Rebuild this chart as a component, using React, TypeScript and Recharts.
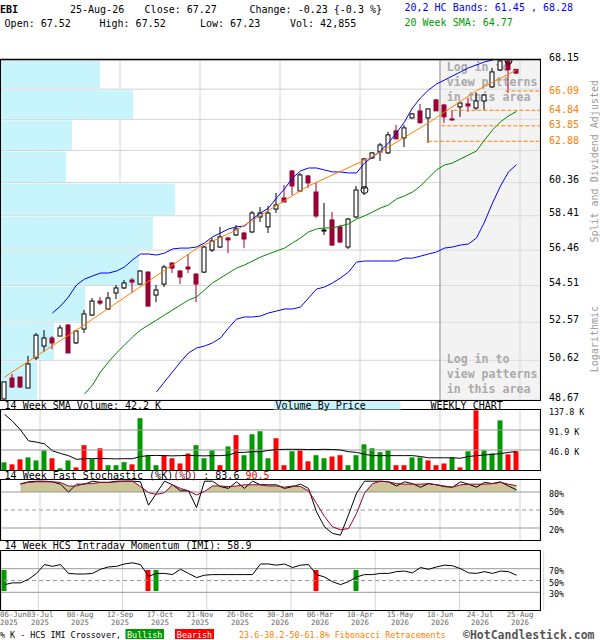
import React from 'react';
import {
  ComposedChart,
  Bar,
  Line,
  Area,
  Scatter,
  XAxis,
  YAxis,
  CartesianGrid,
  ReferenceLine,
  ReferenceArea,
  Cell,
} from 'recharts';

const MONO = '"DejaVu Sans Mono", monospace';
const CANDLE_RED = '#990033';
const ORANGE = '#ff8000';
const BAND_BLUE = '#0000ff';
const SMA_GREEN = '#008800';
const UP_GREEN = '#009900';
const DOWN_RED = '#ff0000';
const GRID = '#d4d4d4';
const RULE = '#999999';
const VBP_CYAN = '#c8f4fc';

// weekly bars, 06-Jun-2025 .. 25-Aug-2026
const opens = [
  48.72, 49.74, 49.79, 49.25, 50.74, 51.34, 51.75, 51.85, 52.42, 51.5,
  52.21, 52.94, 53.68, 53.26, 54.11, 54.38, 54.81, 54.59, 55.24, 54.0,
  54.59, 55.74, 55.3, 55.52, 55.13, 55.24, 56.46, 56.63, 57.14, 57.31,
  57.42, 57.48, 58.34, 57.77, 58.8, 59.45, 61.06, 59.86, 60.76, 59.8,
  57.54, 58.17, 57.77, 56.63, 58.34, 60.04, 61.85, 62.22, 62.16, 63.53,
  63.09, 64.35, 64.8, 64.35, 65.51, 65.18, 64.29, 65.06, 65.25, 64.99,
  65.44, 66.36, 67.48, 68.09, 67.52,
];
const highs = [
  49.55, 49.94, 49.79, 50.84, 52.01, 52.16, 51.85, 52.42, 52.47, 52.16,
  53.21, 53.84, 53.9, 54.16, 54.54, 54.81, 54.92, 55.35, 55.3, 54.54,
  55.63, 55.79, 55.35, 56.24, 55.19, 56.69, 57.14, 57.77, 57.2, 57.88,
  57.48, 58.69, 58.92, 58.98, 59.74, 60.22, 61.12, 60.94, 60.82, 60.4,
  59.15, 58.63, 57.88, 58.28, 60.16, 61.85, 62.22, 62.78, 63.47, 63.91,
  63.91, 64.67, 65.25, 64.93, 65.57, 65.25, 64.86, 65.38, 65.64, 65.96,
  65.9, 67.62, 68.2, 68.3, 67.52,
];
const lows = [
  48.68, 49.25, 49.25, 49.25, 50.64, 51.04, 51.19, 51.85, 50.99, 51.44,
  52.01, 52.89, 53.47, 53.21, 53.79, 54.32, 54.11, 54.54, 53.41, 53.62,
  54.43, 55.19, 54.59, 55.19, 53.62, 55.19, 56.35, 56.57, 56.29, 57.25,
  56.57, 57.42, 58.05, 57.42, 58.57, 59.21, 59.62, 59.8, 60.04, 58.28,
  57.31, 56.69, 56.86, 56.52, 58.28, 59.62, 61.79, 61.67, 62.1, 63.03,
  62.52, 64.29, 64.04, 62.78, 64.8, 64.04, 64.16, 64.42, 64.74, 64.86,
  64.86, 66.29, 67.42, 65.96, 67.23,
];
const closes = [
  49.55, 49.3, 49.3, 50.44, 51.9, 51.75, 51.5, 52.27, 50.99, 52.11,
  53.0, 53.68, 53.57, 53.84, 54.38, 54.65, 54.7, 55.3, 53.41, 54.27,
  55.52, 55.46, 54.97, 55.41, 54.59, 56.63, 56.97, 57.2, 57.03, 57.65,
  57.08, 58.57, 58.57, 58.57, 59.04, 59.21, 60.16, 60.82, 60.34, 58.4,
  57.59, 56.74, 56.91, 58.22, 59.92, 61.79, 62.16, 62.65, 63.28, 63.03,
  63.72, 64.61, 64.04, 64.93, 64.8, 64.42, 64.23, 65.31, 65.12, 65.44,
  65.83, 67.35, 68.09, 67.5, 67.27,
];

const upperBand = [
  null, null, null, null, null, null, 53.05, 53.41, 53.9, 54.54,
  54.86, 55.03, 55.19, 55.19, 55.3, 55.52, 55.91, 56.24, 56.24, 56.18,
  56.29, 56.52, 56.57, 56.57, 56.63, 56.86, 57.2, 57.42, 57.65, 57.77,
  57.82, 58.22, 58.57, 58.86, 59.45, 59.98, 60.64, 61.06, 61.24, 61.24,
  61.12, 61.0, 61.0, 60.94, 60.94, 61.54, 61.91, 62.28, 62.78, 63.41,
  64.1, 64.99, 65.64, 66.15, 66.55, 66.81, 67.08, 67.35, 67.62, 67.82,
  68.02, 68.15, 68.29, 68.36, 68.28,
];
const lowerBand = [
  null, null, null, null, null, null, null, null, null, null,
  null, null, null, null, null, null, null, null, null, 49.06,
  49.55, 50.04, 50.54, 50.99, 51.24, 51.34, 51.5, 51.75, 52.27, 52.73,
  52.84, 52.84, 52.89, 53.05, 53.15, 53.26, 53.26, 53.36, 53.84, 54.32,
  54.43, 54.65, 54.92, 55.24, 55.79, 55.85, 55.85, 55.85, 55.85, 55.85,
  56.01, 56.01, 56.12, 56.24, 56.35, 56.57, 56.63, 56.74, 56.8, 57.14,
  58.05, 59.15, 60.16, 61.0, 61.45,
];
const sma20 = [
  null, null, null, null, null, null, null, null, null, null,
  48.96, 49.4, 50.04, 50.54, 50.99, 51.39, 51.8, 52.16, 52.42, 52.68,
  52.94, 53.21, 53.47, 53.73, 53.9, 54.27, 54.65, 54.92, 55.19, 55.46,
  55.63, 55.85, 56.07, 56.24, 56.41, 56.57, 56.86, 57.14, 57.48, 57.65,
  57.71, 57.71, 57.82, 57.94, 58.22, 58.4, 58.63, 58.86, 59.04, 59.39,
  59.57, 59.8, 60.16, 60.64, 61.12, 61.42, 61.54, 61.79, 62.03, 62.28,
  62.96, 63.59, 64.1, 64.48, 64.77,
];

// orange regression line, read at a few weeks
const trendWeeks = [0, 9, 24, 29, 38, 46, 53, 59, 64];
const trendValues = [49.79, 52.16, 56.54, 57.59, 60.16, 61.93, 64.04, 66.11, 67.48];

const fibLevels = [66.09, 64.84, 63.85, 62.88];
const fibFromWeek = [62.6, 56.1, 54.6, 52.9];

const signalWeeks = [45, 63];
const signalPrices = [59.92, 68.1];

const PRICE_MIN = 48.67;
const PRICE_MAX = 68.15;
const gridPrices = [48.67, 50.62, 52.57, 54.51, 56.46, 58.41, 60.36, 62.31, 64.26, 66.21, 68.15];
const priceLabels = [48.67, 50.62, 52.57, 54.51, 56.46, 58.41, 60.36, 62.88, 63.85, 64.84, 66.09, 68.15];

// volume by price, one bar per grid band from the bottom up
const vbpVolume = [360, 530, 840, 1380, 1520, 1740, 650, 710, 1320, 990];
const VBP_PER_WEEK = 80;

// volume in thousands, u = up week, d = down week
const volume = [
  17.6, 13, 24.5, 29, 22, 45, 27, 4, 22, 6,
  57, 25, 50, 11, 11, 18, 13, 119, 34, 11,
  34, 27, 15, 38, 57, 27, 45, 11, 54, 80,
  34, 82, 89, 27, 73, 11, 43, 45, 20, 34,
  27, 31, 34, 11, 34, 59, 50, 41, 45, 11,
  11, 29, 29, 22, 11, 15, 29, 6, 43, 137,
  45, 38, 114, 36, 42.9,
];
const volumeDir = 'urruuuruurruruuuruuurrrruuururuuuurrurruurruuuuuurruurrrururuuurr';
const volumeAvg = [
  128, 112, 92, 67, 64, 60, 44, 38, 33, 24.5,
  26, 26, 26.5, 26, 25.5, 26, 26, 31, 33, 33.5,
  33, 32.5, 33, 33.5, 33, 32.5, 33, 33, 34.5, 40,
  40.6, 42, 42, 45, 46.7, 47.5, 47.5, 47.5, 47, 47,
  47.5, 47, 46, 42, 40.6, 36, 33, 33, 33, 33,
  33, 33, 31, 28, 28, 28, 28, 27, 31, 33,
  34.5, 36, 37.5, 40.6, 42.2,
];
const VOL_MAX = 137.8;
const volTicks = [46.0, 91.9, 137.8];

const stochK = [
  null, null, 93, 97, 98, 98, 97, 93, 80, 93,
  93, 98, 96, 96, 98, 98, 98, 97, 58, 78,
  98, 92, 82, 82, 54, 98, 98, 89, 86, 97,
  86, 98, 92, 92, 92, 86, 89, 93, 86, 47,
  22, 11, 8, 42, 78, 98, 98, 98, 97, 90,
  97, 94, 88, 94, 92, 89, 88, 97, 93, 88,
  96, 94, 97, 90, 83.6,
];
const stochD = [
  null, null, 94, 96, 97, 97, 97, 96, 90, 90,
  94, 94, 96, 96, 97, 98, 98, 89, 79, 76,
  79, 92, 86, 82, 75, 81, 90, 90, 89, 90,
  92, 92, 92, 90, 90, 88, 90, 89, 82, 61,
  39, 22, 17, 19, 44, 78, 94, 98, 97, 94,
  93, 93, 93, 94, 92, 90, 88, 92, 93, 93,
  93, 94, 96, 93, 90.5,
];

const imi = [
  43, 46, 46, 52, 62, 77, 74, 77, 62, 61,
  61, 62, 69, 73, 74, 78, 80, 77, 57, 62,
  62, 60, 69, 62, 55, 59, 60, 60, 60, 60,
  60, 60, 78, 78, 76, 78, 72, 76, 77, 60,
  56, 48, 43, 48, 56, 60, 60, 62, 62, 65,
  66, 63, 72, 69, 73, 76, 75, 70, 63, 62,
  65, 62, 66, 65, 58.9,
];
const crossWeeks = [0, 18, 19, 39, 44];
const crossBullish = [true, false, true, false, true];
const CROSS_RANGE: [number, number] = [32, 68];

const dateLabels = ['06-Jun', '03-Jul', '08-Aug', '12-Sep', '17-Oct', '21-Nov', '26-Dec', '30-Jan', '06-Mar', '10-Apr', '15-May', '18-Jun', '24-Jul', '25-Aug'];
const yearLabels = ['2025', '2025', '2025', '2025', '2025', '2025', '2025', '2026', '2026', '2026', '2026', '2026', '2026', '2026'];

// x axis: 8px per week, plot area from x=1 to x=540
const X_MIN = -0.4375;
const X_MAX = 66.9375;
const gridWeeks = Array.from({ length: 13 }, (_, k) => 5 * (k + 1) - 0.5625);
const dateTicks = [0, ...gridWeeks];

const mainRows = opens.map((o, i) => {
  const t = trendWeeks.indexOf(i);
  return {
    i,
    o,
    h: highs[i],
    l: lows[i],
    c: closes[i],
    upper: upperBand[i],
    lower: lowerBand[i],
    sma: sma20[i],
    trend: t >= 0 ? trendValues[t] : null,
  };
});
const signalRows = signalWeeks.map((i, k) => ({ i, v: signalPrices[k] }));

const volumeRows = volume.map((v, i) => ({ i, vol: v, avg: volumeAvg[i], up: volumeDir[i] === 'u' }));
const stochRows = stochK.map((k, i) => {
  const d = stochD[i];
  return { i, k, d, fill: d == null ? null : Math.max(d, 80) };
});
const imiRows = imi.map((v, i) => {
  const c = crossWeeks.indexOf(i);
  return { i, imi: v, cross: c >= 0 ? CROSS_RANGE : null, bull: c >= 0 ? crossBullish[c] : false };
});

function Candle(props: any) {
  const { x, y, width, height, payload } = props;
  if (x == null || y == null || !payload) return null;
  const { o, h, l, c } = payload;
  const cx = x + width / 2;
  const yTop = Math.min(y, y + height);
  const yBot = Math.max(y, y + height);
  const span = Math.log(h) - Math.log(l);
  const py = (v: number) => (span > 0 ? yTop + ((yBot - yTop) * (Math.log(h) - Math.log(v))) / span : yTop);
  const top = py(Math.max(o, c));
  const bot = py(Math.min(o, c));
  const bodyH = Math.max(bot - top, 1);
  if (c >= o) {
    return (
      <g>
        <line x1={cx} x2={cx} y1={yTop} y2={yBot} stroke="#000" />
        <rect x={cx - 2} y={top} width={4} height={bodyH} fill="#fff" stroke="#000" />
      </g>
    );
  }
  return (
    <g>
      <line x1={cx} x2={cx} y1={yTop} y2={yBot} stroke={CANDLE_RED} />
      <rect x={cx - 2.5} y={top - 0.5} width={5} height={bodyH + 1} fill={CANDLE_RED} />
    </g>
  );
}

function PriceTick(props: any) {
  const { y, payload } = props;
  const fib = fibLevels.includes(payload.value);
  return (
    <text x={549} y={y + (fib ? 2.6 : 0.6)} fontSize={10} fontFamily={MONO} fill={fib ? ORANGE : '#000'}>
      {payload.value.toFixed(2)}
    </text>
  );
}

function LoginText(props: any) {
  const vb = props.viewBox;
  if (!vb) return null;
  const lines = ['Log in to', 'view patterns', 'in this area'];
  const x = vb.x + 6.7;
  const bottom = vb.y + vb.height;
  return (
    <g fontFamily={MONO} fontSize={11.6} fontWeight="bold" fill="#aaaaaa">
      {lines.map((s, k) => (
        <text key={'t' + k} x={x} y={vb.y + 11 + 15 * k}>{s}</text>
      ))}
      {lines.map((s, k) => (
        <text key={'b' + k} x={x} y={bottom - 37 + 15 * k}>{s}</text>
      ))}
    </g>
  );
}

function MainPanel() {
  return (
    <div style={{ position: 'absolute', left: 0, top: 0 }}>
      <ComposedChart width={600} height={405} data={mainRows} margin={{ top: 60, right: 0, bottom: 5, left: 1 }}>
        <CartesianGrid stroke={GRID} yAxisId="grid" />
        <XAxis type="number" dataKey="i" domain={[X_MIN, X_MAX]} ticks={gridWeeks} hide allowDataOverflow />
        <YAxis yAxisId="grid" hide scale="log" domain={[PRICE_MIN, PRICE_MAX]} ticks={gridPrices} allowDataOverflow />
        <YAxis
          orientation="right"
          width={60}
          scale="log"
          domain={[PRICE_MIN, PRICE_MAX]}
          allowDataOverflow
          ticks={priceLabels}
          interval={0}
          tick={PriceTick}
          axisLine={false}
          tickLine={false}
        />
        <ReferenceArea x1={gridWeeks[10]} x2={X_MAX} fill="#e4e4e4" fillOpacity={0.45} stroke="none" label={(p: any) => <LoginText viewBox={p.viewBox} />} />
        {vbpVolume.map((v, k) => (
          <ReferenceArea
            key={k}
            x1={X_MIN}
            x2={X_MIN + v / VBP_PER_WEEK}
            y1={gridPrices[k]}
            y2={gridPrices[k + 1]}
            shape={(p: any) => <rect x={p.x} y={p.y + 1} width={p.width} height={Math.max(p.height - 1.5, 0)} fill={VBP_CYAN} />}
          />
        ))}
        <ReferenceLine x={gridWeeks[10]} stroke={RULE} />
        <Line dataKey="upper" stroke={BAND_BLUE} strokeWidth={1} dot={false} isAnimationActive={false} />
        <Line dataKey="lower" stroke={BAND_BLUE} strokeWidth={1} dot={false} isAnimationActive={false} />
        <Line dataKey="sma" stroke={SMA_GREEN} strokeWidth={1} dot={false} isAnimationActive={false} />
        <Line dataKey="trend" stroke={ORANGE} strokeWidth={1} dot={false} connectNulls isAnimationActive={false} />
        <Bar dataKey={(d: any) => [d.l, d.h]} barSize={5} shape={(p: any) => <Candle {...p} />} isAnimationActive={false} />
        {fibLevels.map((v, k) => (
          <ReferenceLine
            key={v}
            segment={[{ x: fibFromWeek[k], y: v }, { x: X_MAX, y: v }]}
            stroke={ORANGE}
            strokeDasharray="4 2"
          />
        ))}
        <Scatter
          data={signalRows}
          dataKey="v"
          isAnimationActive={false}
          shape={(p: any) => <circle cx={p.cx} cy={p.cy} r={3.5} fill="none" stroke="#000" />}
        />
      </ComposedChart>
    </div>
  );
}

function SideTick(props: any) {
  const { y, payload, fmt } = props;
  return (
    <text x={549} y={y + 5} fontSize={8.4} fontFamily={MONO} fill="#000">
      {fmt(payload.value)}
    </text>
  );
}

function VolumePanel() {
  return (
    <div style={{ position: 'absolute', left: 0, top: 405 }}>
      <ComposedChart width={600} height={70} data={volumeRows} margin={{ top: 5, right: 0, bottom: 5, left: 1 }}>
        <CartesianGrid stroke={GRID} horizontal={false} />
        <XAxis type="number" dataKey="i" domain={[X_MIN, X_MAX]} ticks={gridWeeks} hide allowDataOverflow />
        <YAxis
          orientation="right"
          width={60}
          domain={[0, VOL_MAX]}
          ticks={volTicks}
          interval={0}
          allowDataOverflow
          axisLine={false}
          tickLine={false}
          tick={(p: any) => <SideTick {...p} fmt={(v: number) => `${v.toFixed(1)} K`} />}
        />
        <ReferenceLine y={volTicks[0]} stroke={RULE} />
        <ReferenceLine y={volTicks[1]} stroke={RULE} />
        <Bar dataKey="vol" barSize={5} isAnimationActive={false}>
          {volumeRows.map((r) => (
            <Cell key={r.i} fill={r.up ? UP_GREEN : DOWN_RED} />
          ))}
        </Bar>
        <Line dataKey="avg" stroke="#000" strokeWidth={1} dot={false} isAnimationActive={false} />
      </ComposedChart>
    </div>
  );
}

function StochPanel() {
  return (
    <div style={{ position: 'absolute', left: 0, top: 475 }}>
      <ComposedChart width={600} height={70} data={stochRows} margin={{ top: 5, right: 0, bottom: 5, left: 1 }}>
        <CartesianGrid stroke={GRID} horizontal={false} />
        <XAxis type="number" dataKey="i" domain={[X_MIN, X_MAX]} ticks={gridWeeks} hide allowDataOverflow />
        <YAxis
          orientation="right"
          width={60}
          domain={[0, 100]}
          ticks={[20, 50, 80]}
          interval={0}
          axisLine={false}
          tickLine={false}
          tick={(p: any) => <SideTick {...p} fmt={(v: number) => `${v}%`} />}
        />
        <Area dataKey="fill" baseValue={80} stroke="none" fill="#ccc699" fillOpacity={1} isAnimationActive={false} />
        <ReferenceLine y={80} stroke={RULE} />
        <ReferenceLine y={20} stroke={RULE} />
        <ReferenceLine y={50} stroke={RULE} strokeDasharray="4 3" />
        <Line dataKey="k" stroke="#000" strokeWidth={1} dot={false} isAnimationActive={false} />
        <Line dataKey="d" stroke={CANDLE_RED} strokeWidth={1} dot={false} isAnimationActive={false} />
      </ComposedChart>
    </div>
  );
}

function DateTick(props: any) {
  const { x, index } = props;
  const first = index === 0;
  const tx = first ? x - 4.5 : x;
  return (
    <text fontSize={7.4} fontFamily={MONO} fill="#666" textAnchor={first ? 'start' : 'middle'}>
      <tspan x={tx} y={71}>{dateLabels[index]}</tspan>
      <tspan x={tx} y={79}>{yearLabels[index]}</tspan>
    </text>
  );
}

function ImiPanel() {
  return (
    <div style={{ position: 'absolute', left: 0, top: 546 }}>
      <ComposedChart width={600} height={94} data={imiRows} margin={{ top: 5, right: 0, bottom: 0, left: 1 }}>
        <CartesianGrid stroke={GRID} horizontal={false} xAxisId="grid" />
        <XAxis xAxisId="grid" type="number" domain={[X_MIN, X_MAX]} ticks={gridWeeks} hide allowDataOverflow />
        <XAxis
          type="number"
          dataKey="i"
          domain={[X_MIN, X_MAX]}
          ticks={dateTicks}
          interval={0}
          height={30}
          allowDataOverflow
          axisLine={false}
          tickLine={false}
          tick={DateTick}
        />
        <YAxis
          orientation="right"
          width={60}
          domain={[0, 100]}
          ticks={[30, 50, 70]}
          interval={0}
          axisLine={false}
          tickLine={false}
          tick={(p: any) => <SideTick {...p} fmt={(v: number) => `${v}%`} />}
        />
        <ReferenceLine y={70} stroke={RULE} />
        <ReferenceLine y={30} stroke={RULE} />
        <ReferenceLine y={50} stroke={RULE} strokeDasharray="4 3" />
        <Bar dataKey="cross" barSize={5} isAnimationActive={false}>
          {imiRows.map((r) => (
            <Cell key={r.i} fill={r.bull ? UP_GREEN : DOWN_RED} />
          ))}
        </Bar>
        <Line dataKey="imi" stroke="#000" strokeWidth={1} dot={false} isAnimationActive={false} />
      </ComposedChart>
    </div>
  );
}

function Overlay() {
  const t = { fontFamily: MONO, fontSize: 10 };
  return (
    <svg width={600} height={640} style={{ position: 'absolute', left: 0, top: 0, pointerEvents: 'none' }}>
      <g {...t} fill="#000">
        <text x={0} y={12.5} fontWeight="bold">EBI</text>
        <text x={70} y={12.5}>25-Aug-26</text>
        <text x={144.6} y={12.5}>Close: 67.27</text>
        <text x={249.5} y={12.5}>Change: -0.23 {'{'}-0.3 %{'}'}</text>
        <text x={404.5} y={11} fill={BAND_BLUE}>20,2 HC Bands: 61.45 , 68.28</text>
        <text x={4.6} y={27.3}>Open: 67.52</text>
        <text x={99.5} y={27.3}>High: 67.52</text>
        <text x={200} y={27.3}>Low: 67.23</text>
        <text x={290} y={27.3}>Vol: 42,855</text>
        <text x={404.5} y={26} fill={UP_GREEN}>20 Week SMA: 64.77</text>
      </g>

      <rect x={0.5} y={59.5} width={540} height={341} fill="none" stroke="#000" />
      <line x1={0} x2={541} y1={59.5} y2={59.5} stroke="#000" strokeWidth={1.5} />
      <rect x={0.5} y={409.5} width={540} height={61} fill="none" stroke="#000" />
      <rect x={0.5} y={479.5} width={540} height={61} fill="none" stroke="#000" />
      <rect x={0.5} y={550.5} width={540} height={60} fill="none" stroke="#000" />

      <g {...t} fill="#999">
        <text transform="translate(598,80) rotate(-90)" textAnchor="end">Split and Dividend Adjusted</text>
        <text transform="translate(598,306) rotate(-90)" textAnchor="end">Logarithmic</text>
      </g>

      <rect x={273.6} y={401} width={127} height={8.5} fill={VBP_CYAN} />
      <g {...t} fill="#000">
        <text x={4.6} y={408.5}>14 Week SMA Volume: 42.2 K</text>
        <text x={275.5} y={408.5}>Volume By Price</text>
        <text x={430.5} y={408.5}>WEEKLY CHART</text>
        <text x={4.6} y={478.5}>
          14 Week Fast Stochastic (%K)<tspan fill={CANDLE_RED}>(%D)</tspan> : 83.6 <tspan fill={DOWN_RED}>90.5</tspan>
        </text>
        <text x={4.6} y={549}>14 Week HCS Intraday Momentum (IMI): 58.9</text>
      </g>

      <g fontFamily={MONO} fontSize={8.4}>
        <text x={0} y={637.5} fill="#000">% K - HCS IMI Crossover,</text>
        <rect x={125.5} y={629} width={38.5} height={10} fill={UP_GREEN} />
        <text x={144.7} y={637.5} fill="#fff" textAnchor="middle">Bullish</text>
        <rect x={175} y={629} width={39} height={10} fill={DOWN_RED} />
        <text x={194.5} y={637.5} fill="#fff" textAnchor="middle">Bearish</text>
        <text x={239} y={637.5} fill={ORANGE}>23.6-38.2-50-61.8% Fibonacci Retracements</text>
      </g>
      <text x={463} y={638.5} fontFamily={MONO} fontSize={11.5} fontWeight="bold" fill="#555">©HotCandlestick.com</text>
    </svg>
  );
}

export default function App() {
  return (
    <div style={{ position: 'absolute', left: 0, top: 0, width: 600, height: 640, background: '#fff', overflow: 'hidden' }}>
      <MainPanel />
      <VolumePanel />
      <StochPanel />
      <ImiPanel />
      <Overlay />
    </div>
  );
}
